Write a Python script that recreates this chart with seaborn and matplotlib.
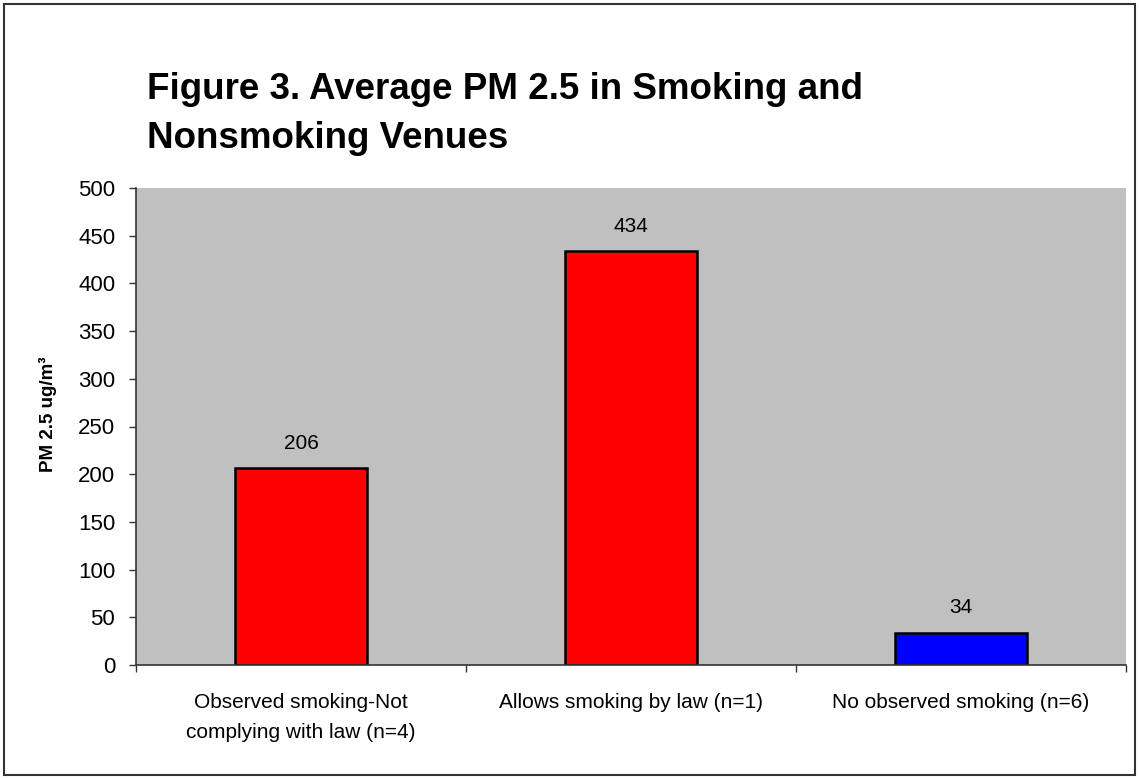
import matplotlib
matplotlib.use("Agg")
import matplotlib.pyplot as plt
from matplotlib.patches import Rectangle
import pandas as pd
import seaborn as sns

categories = ["Observed smoking-Not\ncomplying with law (n=4)",
              "Allows smoking by law (n=1)",
              "No observed smoking (n=6)"]
values = [206, 434, 34]
bar_colors = ["#FF0000", "#FF0000", "#0000FF"]
y_ticks = [0, 50, 100, 150, 200, 250, 300, 350, 400, 450, 500]

sns.set_style("ticks")
plt.rcParams["font.family"] = ["Liberation Sans", "DejaVu Sans"]
plt.rcParams.update({"text.color": "black", "axes.labelcolor": "black",
                     "xtick.color": "black", "ytick.color": "black"})

df = pd.DataFrame({"venue": categories, "pm": values})

fig = plt.figure(figsize=(11.39, 7.78), dpi=100)
ax = fig.add_axes([136 / 1139, 113 / 778, 990 / 1139, 477 / 778])
ax.set_facecolor("#C0C0C0")

sns.barplot(data=df, x="venue", y="pm", hue="venue", palette=bar_colors,
            saturation=1, width=0.4, edgecolor="black", linewidth=1.8,
            legend=False, ax=ax)

for i, v in enumerate(values):
    ax.annotate(str(v), (i, v), xytext=(0, 11), textcoords="offset points",
                ha="center", va="bottom", fontsize=15, color="black")

ax.set_xlim(-0.5, 2.5)
ax.set_ylim(0, 500)
ax.set_yticks(y_ticks)
ax.tick_params(axis="y", labelsize=16, length=5, width=1, color="#333333", pad=10)
ax.set_xticks([-0.5, 0.5, 1.5, 2.5], minor=True)
ax.tick_params(axis="x", which="minor", length=5, width=1, color="#333333")
ax.tick_params(axis="x", which="major", length=0, labelsize=15, pad=20)
for lbl in ax.get_xticklabels():
    lbl.set_linespacing(1.75)
ax.set_xlabel("")
ax.set_ylabel("PM 2.5 ug/m³", fontsize=13.5, fontweight="bold")
ax.yaxis.set_label_coords(-0.080, 0.526)

for s in ["top", "right"]:
    ax.spines[s].set_visible(False)
for s in ["left", "bottom"]:
    ax.spines[s].set_color("#333333")
    ax.spines[s].set_linewidth(1.2)

fig.text(147 / 1139, 1 - 72 / 778, "Figure 3. Average PM 2.5 in Smoking and\nNonsmoking Venues",
         ha="left", va="top", fontsize=26.5, fontweight="bold", linespacing=1.5,
         color="black")

fig.patches.append(Rectangle((4 / 1139, 3 / 778), 1131 / 1139, 771 / 778,
                             transform=fig.transFigure, fill=False,
                             edgecolor="#333333", linewidth=1.5))

fig.savefig("out.png", dpi=100)
